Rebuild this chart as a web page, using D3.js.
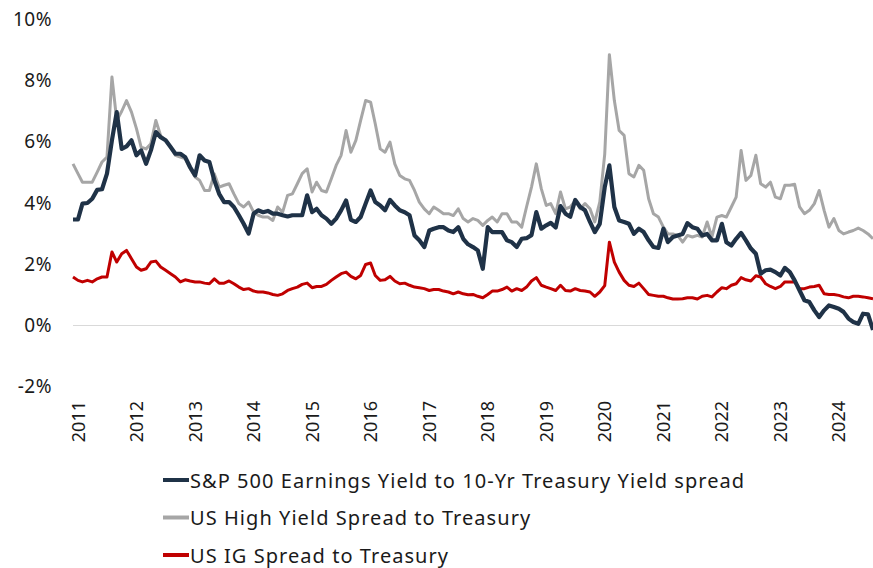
<!DOCTYPE html>
<html>
<head>
<meta charset="utf-8">
<script src="https://cdn.jsdelivr.net/npm/d3@7"></script>
<style>
  html, body { margin: 0; padding: 0; background: #fff; }
  svg { display: block; font-family: "Noto Sans", "Open Sans", sans-serif; }
</style>
</head>
<body>
<svg id="chart" width="873" height="568"></svg>
<script>
// Monthly observations, Jan 2011 onward (%)
const startMonth = "2011-01";
const spEarningsSpread = [
  3.46,3.46,3.98,4.00,4.14,4.43,4.45,4.96,6.05,6.97,5.77,5.85,
  6.05,5.56,5.72,5.28,5.72,6.32,6.15,6.05,5.83,5.61,5.61,5.50,
  5.17,4.90,5.56,5.39,5.34,4.74,4.30,4.03,4.03,3.87,3.60,3.32,
  3.00,3.65,3.76,3.70,3.74,3.65,3.65,3.60,3.56,3.60,3.60,3.60,
  4.25,3.70,3.81,3.60,3.49,3.32,3.49,3.76,4.08,3.45,3.38,3.54,
  3.98,4.41,4.03,3.92,3.76,4.10,3.92,3.76,3.70,3.60,2.94,2.78,
  2.56,3.10,3.16,3.21,3.21,3.10,3.05,3.21,2.83,2.65,2.56,2.45,
  1.85,3.21,3.05,3.05,3.05,2.78,2.72,2.56,2.83,2.85,2.95,3.70,
  3.16,3.27,3.35,3.20,3.90,3.65,3.55,4.10,3.87,3.76,3.38,3.05,
  3.32,4.52,5.23,3.87,3.43,3.38,3.32,2.99,3.16,3.05,2.78,2.56,
  2.53,3.16,2.72,2.89,2.94,2.99,3.34,3.21,3.16,2.94,2.99,2.78,
  2.78,3.32,2.72,2.61,2.83,3.02,2.78,2.51,2.34,1.69,1.80,1.82,
  1.74,1.63,1.88,1.74,1.47,1.14,0.82,0.76,0.49,0.27,0.49,0.65,
  0.60,0.54,0.44,0.22,0.11,0.05,0.38,0.36,-0.15
];
const highYieldSpread = [
  5.28,4.96,4.68,4.68,4.68,5.01,5.34,5.50,8.12,6.70,7.00,7.35,
  6.97,6.43,5.83,5.77,5.94,6.70,6.20,6.05,5.83,5.56,5.50,5.45,
  5.12,4.85,4.74,4.41,4.41,4.95,4.52,4.58,4.63,4.30,3.98,3.87,
  4.03,3.70,3.60,3.54,3.54,3.43,3.87,3.70,4.25,4.30,4.63,4.96,
  5.12,4.36,4.68,4.41,4.36,4.79,5.23,5.56,6.37,5.66,6.05,6.70,
  7.35,7.30,6.59,5.77,5.66,5.99,5.28,4.90,4.79,4.74,4.41,4.03,
  3.81,3.65,3.87,3.76,3.65,3.65,3.59,3.81,3.49,3.38,3.49,3.43,
  3.27,3.43,3.54,3.38,3.65,3.65,3.38,3.38,3.21,3.87,4.52,5.28,
  4.47,3.92,3.98,3.65,4.36,3.81,3.87,4.08,3.81,3.98,3.81,3.38,
  4.03,5.60,8.85,7.35,6.37,6.21,4.96,4.85,5.23,5.07,4.14,3.65,
  3.54,3.21,2.99,2.99,2.94,2.72,2.94,2.89,2.94,2.89,3.38,2.89,
  3.54,3.59,3.54,3.87,4.19,5.72,4.74,4.90,5.56,4.63,4.52,4.68,
  4.19,4.14,4.58,4.58,4.61,3.87,3.65,3.76,3.98,4.41,3.76,3.21,
  3.49,3.10,2.99,3.05,3.10,3.18,3.10,2.99,2.83
];
const igSpread = [
  1.58,1.47,1.42,1.47,1.42,1.52,1.58,1.58,2.40,2.07,2.34,2.45,
  2.18,1.91,1.80,1.85,2.07,2.10,1.91,1.80,1.69,1.58,1.42,1.49,
  1.45,1.42,1.42,1.38,1.36,1.52,1.38,1.38,1.45,1.36,1.25,1.17,
  1.20,1.12,1.09,1.09,1.06,1.01,0.98,1.03,1.14,1.20,1.25,1.34,
  1.38,1.23,1.27,1.27,1.34,1.47,1.58,1.69,1.74,1.60,1.52,1.63,
  1.99,2.04,1.63,1.47,1.49,1.60,1.45,1.36,1.38,1.31,1.25,1.23,
  1.20,1.14,1.17,1.17,1.12,1.09,1.03,1.09,1.03,1.00,1.01,0.95,
  0.90,1.01,1.12,1.12,1.17,1.25,1.12,1.20,1.14,1.25,1.45,1.56,
  1.31,1.25,1.20,1.14,1.31,1.14,1.12,1.20,1.14,1.12,1.09,0.95,
  1.09,1.30,2.72,2.07,1.74,1.47,1.31,1.27,1.38,1.20,1.01,0.98,
  0.95,0.95,0.90,0.86,0.86,0.87,0.90,0.90,0.86,0.95,0.98,0.93,
  1.09,1.23,1.20,1.31,1.36,1.56,1.49,1.45,1.62,1.58,1.36,1.27,
  1.20,1.27,1.42,1.42,1.42,1.20,1.20,1.25,1.27,1.31,1.03,1.01,
  1.01,0.98,0.93,0.90,0.95,0.95,0.93,0.90,0.87
];
const yTicks = [-2, 0, 2, 4, 6, 8, 10];
const yearLabels = ["2011","2012","2013","2014","2015","2016","2017","2018","2019","2020","2021","2022","2023","2024"];
const seriesNames = [
  "S&P 500 Earnings Yield to 10-Yr Treasury Yield spread",
  "US High Yield Spread to Treasury",
  "US IG Spread to Treasury"
];

const parseMonth = d3.timeParse("%Y-%m");
const t0 = parseMonth(startMonth);
const dates = spEarningsSpread.map((_, i) => d3.timeMonth.offset(t0, i));

const svg = d3.select("#chart");
const plot = { left: 73, right: 873, top: 19.5, bottom: 386.5 };

const x = d3.scaleTime()
  .domain([dates[0], dates[dates.length - 1]])
  .range([plot.left, plot.right]);
const y = d3.scaleLinear()
  .domain([-2, 10])
  .range([plot.bottom, plot.top]);

// zero baseline
svg.append("line")
  .attr("x1", plot.left).attr("x2", plot.right)
  .attr("y1", Math.round(y(0)) + 0.5).attr("y2", Math.round(y(0)) + 0.5)
  .attr("stroke", "#d9d9d9").attr("stroke-width", 1);

// y-axis labels
const yAxis = d3.axisLeft(y).tickValues(yTicks).tickFormat(d => d + "%").tickSize(0).tickPadding(0);
const gy = svg.append("g").attr("transform", "translate(52,0)").call(yAxis);
gy.select(".domain").remove();
gy.selectAll("text")
  .attr("font-family", "Noto Sans, sans-serif")
  .attr("font-size", 19).attr("letter-spacing", 0.5).attr("fill", "#1a1a1a");

// x-axis year labels, rotated
const yearDates = yearLabels.map(s => d3.timeParse("%Y")(s));
const xAxis = d3.axisBottom(x).tickValues(yearDates).tickFormat((d, i) => yearLabels[i]).tickSize(0);
const gx = svg.append("g").attr("transform", "translate(4,0)").call(xAxis);
gx.select(".domain").remove();
gx.selectAll(".tick text")
  .attr("font-family", "Noto Sans, sans-serif")
  .attr("font-size", 18).attr("fill", "#1a1a1a")
  .attr("text-anchor", "end")
  .attr("dy", null)
  .attr("y", 0).attr("x", 0)
  .attr("dominant-baseline", "central")
  .attr("transform", "translate(0,401) rotate(-90)");

const line = d3.line()
  .x((d, i) => x(dates[i]))
  .y(d => y(d))
  .curve(d3.curveLinear);

const series = [
  { values: highYieldSpread, color: "#a6a6a6", width: 3 },
  { values: igSpread, color: "#c00000", width: 3 },
  { values: spEarningsSpread, color: "#1f3247", width: 4.2 }
];
series.forEach(s => {
  svg.append("path")
    .datum(s.values)
    .attr("d", line)
    .attr("fill", "none")
    .attr("stroke", s.color)
    .attr("stroke-width", s.width)
    .attr("stroke-linejoin", "round")
    .attr("stroke-linecap", "butt");
});

// legend
const legendColors = ["#1f3247", "#a6a6a6", "#c00000"];
const legend = svg.append("g");
seriesNames.forEach((name, i) => {
  const cy = 480 + i * 37.5;
  legend.append("line")
    .attr("x1", 163).attr("x2", 189)
    .attr("y1", cy).attr("y2", cy)
    .attr("stroke", legendColors[i]).attr("stroke-width", 4);
  legend.append("text")
    .attr("x", 190).attr("y", cy)
    .attr("dominant-baseline", "central")
    .attr("font-family", "Noto Sans, sans-serif")
    .attr("font-size", 20).attr("letter-spacing", 1.05).attr("fill", "#1a1a1a")
    .text(name);
});
</script>
</body>
</html>
